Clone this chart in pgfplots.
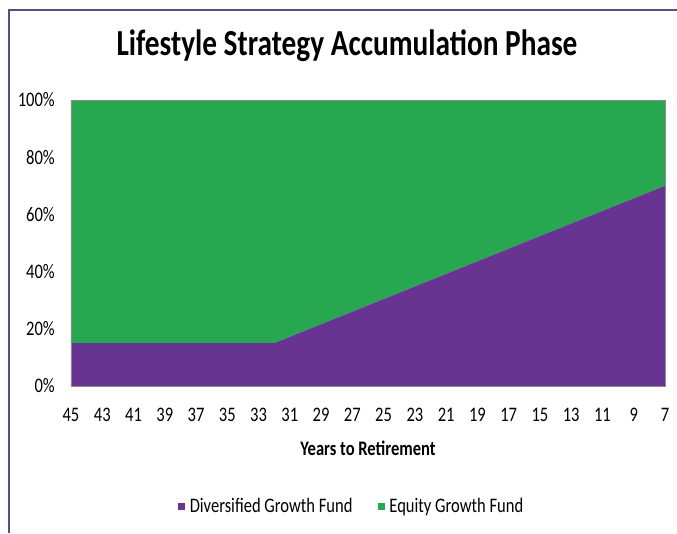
\documentclass[border=0pt]{standalone}
\usepackage{fontspec}
\setmainfont{Carlito}[FakeStretch=0.8]
\usepackage{pgfplots}
\usepackage{pgfplotstable}
\pgfplotsset{compat=1.18}
\definecolor{divpurple}{RGB}{103,52,145}
\definecolor{eqgreen}{RGB}{39,168,80}
\definecolor{frameline}{RGB}{94,74,128}
\definecolor{axgray}{RGB}{140,140,140}
\pgfplotstableread{
year div eq
45 15 85
44 15 85
43 15 85
42 15 85
41 15 85
40 15 85
39 15 85
38 15 85
37 15 85
36 15 85
35 15 85
34 15 85
33 15 85
32 15 85
31 17.2 82.8
30 19.4 80.6
29 21.6 78.4
28 23.8 76.2
27 26 74
26 28.2 71.8
25 30.4 69.6
24 32.6 67.4
23 34.8 65.2
22 37 63
21 39.2 60.8
20 41.4 58.6
19 43.6 56.4
18 45.8 54.2
17 48 52
16 50.2 49.8
15 52.4 47.6
14 54.6 45.4
13 56.8 43.2
12 59 41
11 61.2 38.8
10 63.4 36.6
9 65.6 34.4
8 67.8 32.2
7 70 30
}\lifestyle
\begin{document}
\begin{tikzpicture}
\path[use as bounding box] (0,0) rectangle (507.75pt,399.75pt);
\draw[frameline, line width=1.5pt] (6.75pt,0) -- (6.75pt,392.25pt) -- (508pt,392.25pt);
\node[anchor=base, inner sep=0pt, font=\fontsize{27.5}{32}\selectfont\bfseries] at (260.25pt,357.75pt) {Lifestyle Strategy Accumulation Phase};
\begin{axis}[
  at={(53.25pt,110.25pt)}, anchor=south west,
  scale only axis, width=445.5pt, height=214.5pt,
  x dir=reverse,
  xmin=7, xmax=45, ymin=0, ymax=100,
  stack plots=y,
  axis on top,
  axis line style={draw=axgray, line width=0.6pt},
  major tick length=0pt,
  xtick={45,43,41,39,37,35,33,31,29,27,25,23,21,19,17,15,13,11,9,7},
  xticklabels={45,43,41,39,37,35,33,31,29,27,25,23,21,19,17,15,13,11,9,7},
  ytick={0,20,40,60,80,100},
  yticklabels={0\%,20\%,40\%,60\%,80\%,100\%},
  tick label style={font=\fontsize{15.5}{18}\selectfont, text=black},
  xticklabel style={anchor=base, inner sep=0pt, yshift=-26.8pt},
  yticklabel style={anchor=east, inner sep=0pt, xshift=-12pt},
  xlabel={Years to Retirement},
  xlabel style={at={(axis description cs:0.5,-0.217)}, anchor=center, font=\fontsize{15.5}{18}\selectfont\bfseries},
  legend columns=2,
  legend style={at={(0.472,-0.42)}, anchor=center, draw=none, fill=none,
    font=\fontsize{15.5}{18}\selectfont,
    /tikz/every even column/.append style={column sep=18pt},
    nodes={inner sep=1pt}},
  legend image code/.code={\path[#1, draw=none] (0pt,-2.6pt) rectangle (5.25pt,2.6pt);},
]
\addplot[fill=divpurple, draw=none] table[x=year, y=div] {\lifestyle} \closedcycle;
\addlegendentry{\hspace{2.5pt}Diversified Growth Fund}
\addplot[fill=eqgreen, draw=none] table[x=year, y=eq] {\lifestyle} \closedcycle;
\addlegendentry{\hspace{2.5pt}Equity Growth Fund}
\end{axis}
\end{tikzpicture}
\end{document}
